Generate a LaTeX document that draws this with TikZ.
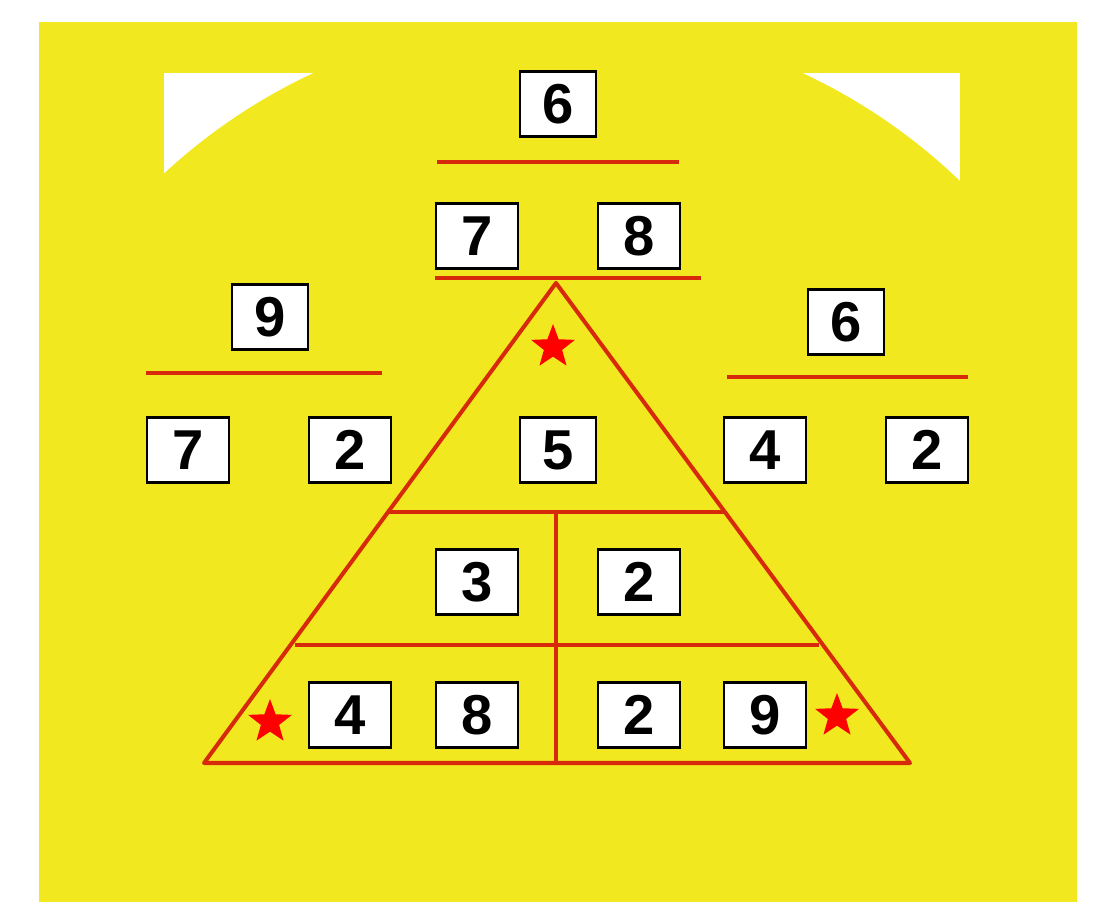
\documentclass[tikz,border=0pt]{standalone}
\usepackage{fontspec}
\setmainfont{Liberation Sans}
\usetikzlibrary{shapes.geometric,calc}

\definecolor{bgyellow}{RGB}{242,232,32}
\definecolor{linered}{RGB}{214,42,10}

\tikzset{
  numbox/.style={draw=black, fill=white, line width=1.2pt, minimum width=1.64cm,
    minimum height=1.3cm, inner sep=0pt, font=\fontsize{32}{32}\selectfont\bfseries},
  narrowbox/.style={numbox, minimum width=1.52cm},
  redline/.style={draw=linered, line width=2.3pt},
  redstar/.style={star, star points=5, star point ratio=2.4, fill=red,
    minimum size=0.92cm, inner sep=0pt},
}

\begin{document}
\begin{tikzpicture}[x=0.02cm, y=-0.02cm]
\useasboundingbox (0,0) rectangle (1117,924);
\fill[white] (0,0) rectangle (1117,924);
\fill[bgyellow] (39,22) rectangle (1077,902);

% white corners
\fill[white] (164,73) rectangle (960,200);
\begin{scope}
  \clip (164,73) rectangle (960,200);
  \fill[bgyellow] (558,599) circle[radius=11.6cm];
\end{scope}

% top sum
\node[narrowbox] (topsum) at (558,104) {6};
\draw[redline] (437,162) -- (679,162);
\node[numbox] (topa) at (477,236) {7};
\node[numbox] (topb) at (639,236) {8};
\draw[redline] (435,278) -- (701,278);

% left sum
\node[narrowbox] (leftsum) at (270,317) {9};
\draw[redline] (146,373) -- (382,373);
\node[numbox] (lefta) at (188,450) {7};
\node[numbox] (leftb) at (350,450) {2};

% right sum
\node[narrowbox] (rightsum) at (846,322) {6};
\draw[redline] (727,377) -- (968,377);
\node[numbox] (righta) at (765,450) {4};
\node[numbox] (rightb) at (927,450) {2};

% triangle
\coordinate (apex) at (556,283);
\coordinate (bl) at (204,763);
\coordinate (br) at (910,763);
\draw[redline, line join=round] (apex) -- (bl) -- (br) -- cycle;
\draw[redline] ($(apex)!0.477!(bl)$) -- ($(apex)!0.477!(br)$);
\draw[redline] ($(apex)!0.754!(bl)+(4,0)$) -- ($(apex)!0.754!(br)-(4,0)$);
\draw[redline] (556,512) -- (556,763);

\node[narrowbox] (mid) at (558,450) {5};
\node[numbox] (rowa) at (477,582) {3};
\node[numbox] (rowb) at (639,582) {2};
\node[numbox] (bota) at (350,715) {4};
\node[numbox] (botb) at (477,715) {8};
\node[numbox] (botc) at (639,715) {2};
\node[numbox] (botd) at (765,715) {9};

% stars
\node[redstar] (startop) at (553,347) {};
\node[redstar] (starleft) at (270,722) {};
\node[redstar] (starright) at (837,716) {};
\end{tikzpicture}
\end{document}
